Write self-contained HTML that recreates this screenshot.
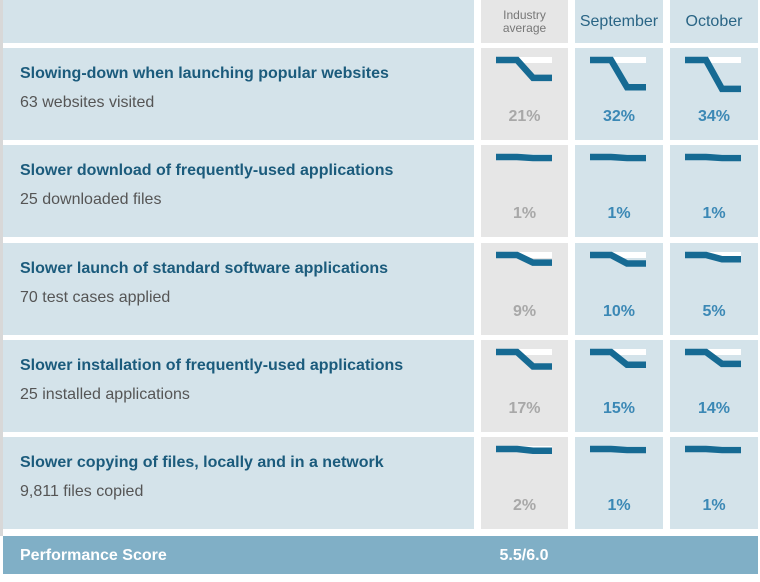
<!DOCTYPE html>
<html><head><style>
body{margin:0;background:#fff;}
svg text{font-family:"Liberation Sans",Arial,sans-serif;}
</style></head><body>
<svg width="760" height="577" xmlns="http://www.w3.org/2000/svg">
<rect x="0" y="0" width="3" height="536" fill="#d8d8d8"/>
<rect x="3" y="0" width="471" height="43" fill="#d4e3ea"/>
<rect x="481" y="0" width="87" height="43" fill="#e6e6e6"/>
<rect x="575" y="0" width="88" height="43" fill="#d4e3ea"/>
<rect x="670" y="0" width="88" height="43" fill="#d4e3ea"/>
<text x="524.5" y="19" font-size="12" fill="#777" text-anchor="middle">Industry</text>
<text x="524.5" y="32" font-size="12" fill="#777" text-anchor="middle">average</text>
<text x="619" y="26" font-size="16" fill="#2a6585" text-anchor="middle">September</text>
<text x="714" y="26" font-size="16" fill="#2a6585" text-anchor="middle">October</text>
<g id="rows"></g>
<rect x="3" y="536" width="755" height="38" fill="#80afc6"/>
<text x="20" y="560" font-size="16" font-weight="bold" fill="#fff">Performance Score</text>
<text x="524" y="560" font-size="16" font-weight="bold" fill="#fff" text-anchor="middle">5.5/6.0</text>
</svg>
<script>
const rows=[
["Slowing-down when launching popular websites","63 websites visited",[21,32,34]],
["Slower download of frequently-used applications","25 downloaded files",[1,1,1]],
["Slower launch of standard software applications","70 test cases applied",[9,10,5]],
["Slower installation of frequently-used applications","25 installed applications",[17,15,14]],
["Slower copying of files, locally and in a network","9,811 files copied",[2,1,1]]];
const tops=[48,145,243,340,437];const cols=[481,575,670];const ws=[87,88,88];
let s="";
rows.forEach((r,i)=>{const t=tops[i],h=92;
s+=`<rect x="3" y="${t}" width="471" height="${h}" fill="#d4e3ea"/>`;
s+=`<text x="20" y="${t+30}" font-size="16" font-weight="bold" fill="#1b5b7c">${r[0]}</text>`;
s+=`<text x="20" y="${t+59}" font-size="16" fill="#555">${r[1]}</text>`;
r[2].forEach((p,j)=>{const x=cols[j];
s+=`<rect x="${x}" y="${t}" width="${ws[j]}" height="${h}" fill="${j?'#d4e3ea':'#e6e6e6'}"/>`;
const ix=x+15,iy=t+12,d=Math.max(1,p*0.85);
s+=`<rect x="${ix+21}" y="${iy-3}" width="35" height="6" fill="#fff"/>`;
s+=`<polyline points="${ix},${iy} ${ix+21},${iy} ${ix+37},${iy+d} ${ix+56},${iy+d}" fill="none" stroke="#166a93" stroke-width="6.5"/>`;
s+=`<text x="${x+ws[j]/2}" y="${t+73}" font-size="16" font-weight="bold" fill="${j?'#3b88b5':'#a8a8a8'}" text-anchor="middle">${p}%</text>`;
});});
document.getElementById("rows").innerHTML=s;
</script>
</body></html>
